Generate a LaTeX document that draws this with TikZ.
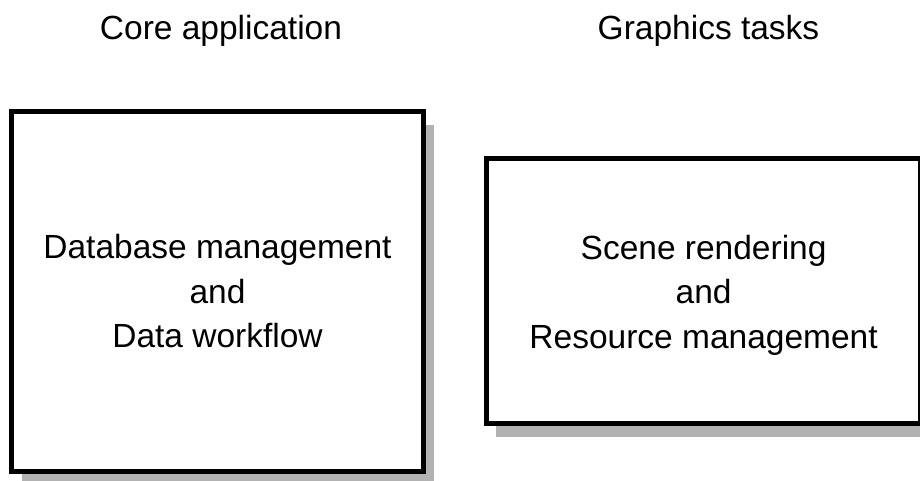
\documentclass[tikz,border=0pt]{standalone}
\usepackage{fontspec}
\setmainfont{Liberation Sans}
\usetikzlibrary{shapes,shadows}

\tikzset{
  blockbox/.style={shape=rectangle,draw=black,fill=white,align=center,line width=5pt,inner sep=0pt,
    drop shadow={shadow xshift=10pt,shadow yshift=-13pt,fill=black!30,opacity=1}},
  heading/.style={align=center,inner sep=0pt,anchor=base}
}

\begin{document}
\begin{tikzpicture}[x=1pt,y=-1pt,font=\fontsize{33.5}{44.5}\selectfont]
\clip (0,0) rectangle (920,480);
\path[use as bounding box] (0,0) rectangle (920,480);

\node[heading] (0) at (221,39) {Core application};
\node[heading] (1) at (708.5,39) {Graphics tasks};

\node[blockbox,minimum width=412pt,minimum height=360pt] (2) at (217.5,291.5) {Database management\\and\\Data workflow};
\node[blockbox,minimum width=434.3pt,minimum height=265pt] (3) at (703.6,291) {\rule{0pt}{32pt}Scene rendering\\and\\Resource management};
\end{tikzpicture}
\end{document}
